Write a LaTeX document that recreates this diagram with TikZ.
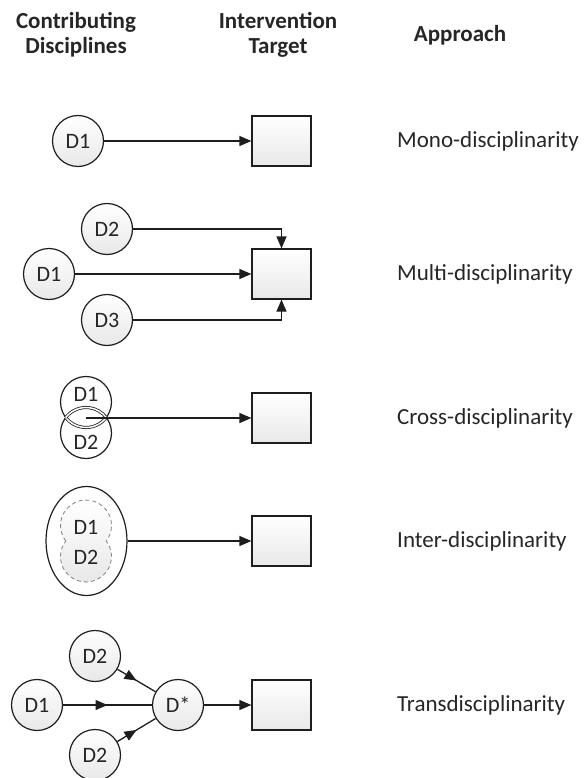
\documentclass[tikz,border=0pt]{standalone}
\usepackage{fontspec}
\setmainfont{Carlito}
\usetikzlibrary{arrows.meta,shapes.geometric,decorations.markings}
\definecolor{ink}{HTML}{262626}
\definecolor{linec}{HTML}{1E1E1E}
\tikzset{
  disc/.style={circle, draw=linec, line width=1.2pt, minimum size=51pt, inner sep=0pt,
    top color=white, bottom color=black!9, font=\fontsize{22}{24}\selectfont, text=ink},
  plaindisc/.style={circle, draw=linec, line width=1.2pt, minimum size=51pt, inner sep=0pt, fill=white},
  lbl/.style={font=\fontsize{22}{24}\selectfont, text=ink, inner sep=0pt},
  target/.style={rectangle, draw=linec, line width=1.2pt, minimum width=59pt, minimum height=50pt,
    top color=white, bottom color=black!9},
  arr/.style={draw=linec, line width=1.2pt, -{Triangle[length=12pt,width=10pt]}},
  midarrow/.style={draw=linec, line width=1.3pt, postaction={decorate},
    decoration={markings, mark=at position 0.5 with {\arrow{Triangle[length=12pt,width=10pt]}}}},
  lens/.style={draw=linec, line width=0.8pt, double=white, double distance=1.5pt},
  head/.style={font=\bfseries\fontsize{23}{25}\selectfont, text=ink, anchor=base, inner sep=0pt},
  approach/.style={font=\fontsize{23}{27}\selectfont, text=ink, anchor=west, inner sep=0pt},
}
\begin{document}
\begin{tikzpicture}[x=1pt,y=-1pt]
\useasboundingbox (0,0) rectangle (587,778);

% column headings
\node[head] (hCon) at (76,29) {\begin{tabular}[t]{@{}c@{}}Contributing\\Disciplines\end{tabular}};
\node[head] (hInt) at (278,29) {\begin{tabular}[t]{@{}c@{}}Intervention\\Target\end{tabular}};
\node[head] (hApp) at (460,42) {Approach};

% mono-disciplinarity
\node[disc] (mD1) at (78,141) {D1};
\node[target] (mbox) at (281.5,141) {};
\draw[arr] (mD1) -- (mbox);
\node[approach] (tMono) at (397,141) {Mono-disciplinarity};

% multi-disciplinarity
\node[disc] (uD2) at (107,229) {D2};
\node[disc] (uD1) at (49,274) {D1};
\node[disc] (uD3) at (107,320) {D3};
\node[target] (ubox) at (281.5,274) {};
\draw[arr] (uD1) -- (ubox);
\draw[arr] (uD2) -| (ubox);
\draw[arr] (uD3) -| (ubox);
\node[approach] (tMulti) at (397,274) {Multi-disciplinarity};

% cross-disciplinarity: two overlapping circles with a doubled lens outline
\node[plaindisc] (xD1) at (86,402) {};
\node[plaindisc] (xD2) at (86,433) {};
\draw[lens] (106.25,417.5) arc[start angle=37.4, end angle=142.6, radius=25.5];
\draw[lens] (65.75,417.5) arc[start angle=217.4, end angle=322.6, radius=25.5];
\node[lbl] (xL1) at (86,394) {D1};
\node[lbl] (xL2) at (86,442) {D2};
\coordinate (xsrc) at (86,418);
\node[target] (xbox) at (281.5,418) {};
\draw[arr] (xsrc) -- (xbox);
\node[approach] (tCross) at (397,418) {Cross-disciplinarity};

% inter-disciplinarity: merged disciplines inside an enclosing ellipse
\node[ellipse, draw=linec, line width=1.2pt, fill=white, minimum width=81pt, minimum height=109pt, inner sep=0pt] (iOuter) at (86.5,541) {};
\shade[top color=white, bottom color=black!9] (86,525.5) circle[radius=25.5] (86,556.5) circle[radius=25.5];
\draw[draw=black!50, line width=0.8pt, dash pattern=on 4pt off 3pt]
  (65.75,541) arc[start angle=142.6, end angle=397.4, radius=25.5]
  arc[start angle=-37.4, end angle=217.4, radius=25.5];
\node[lbl] (iL1) at (86,527) {D1};
\node[lbl] (iL2) at (86,557) {D2};
\node[target] (ibox) at (281.5,541) {};
\draw[arr] (iOuter) -- (ibox);
\node[approach] (tInter) at (397,541) {Inter-disciplinarity};

% transdisciplinarity
\node[disc] (tD2a) at (95,656) {D2};
\node[disc] (tD1) at (37,705) {D1};
\node[disc] (tDs) at (178,705) {D*};
\node[disc] (tD2b) at (95,755) {D2};
\node[target] (tbox) at (281.5,705) {};
\draw[midarrow] (tD1) -- (tDs);
\draw[midarrow] (tD2a) -- (tDs);
\draw[midarrow] (tD2b) -- (tDs);
\draw[arr] (tDs) -- (tbox);
\node[approach] (tTrans) at (397,705) {Transdisciplinarity};
\end{tikzpicture}
\end{document}
